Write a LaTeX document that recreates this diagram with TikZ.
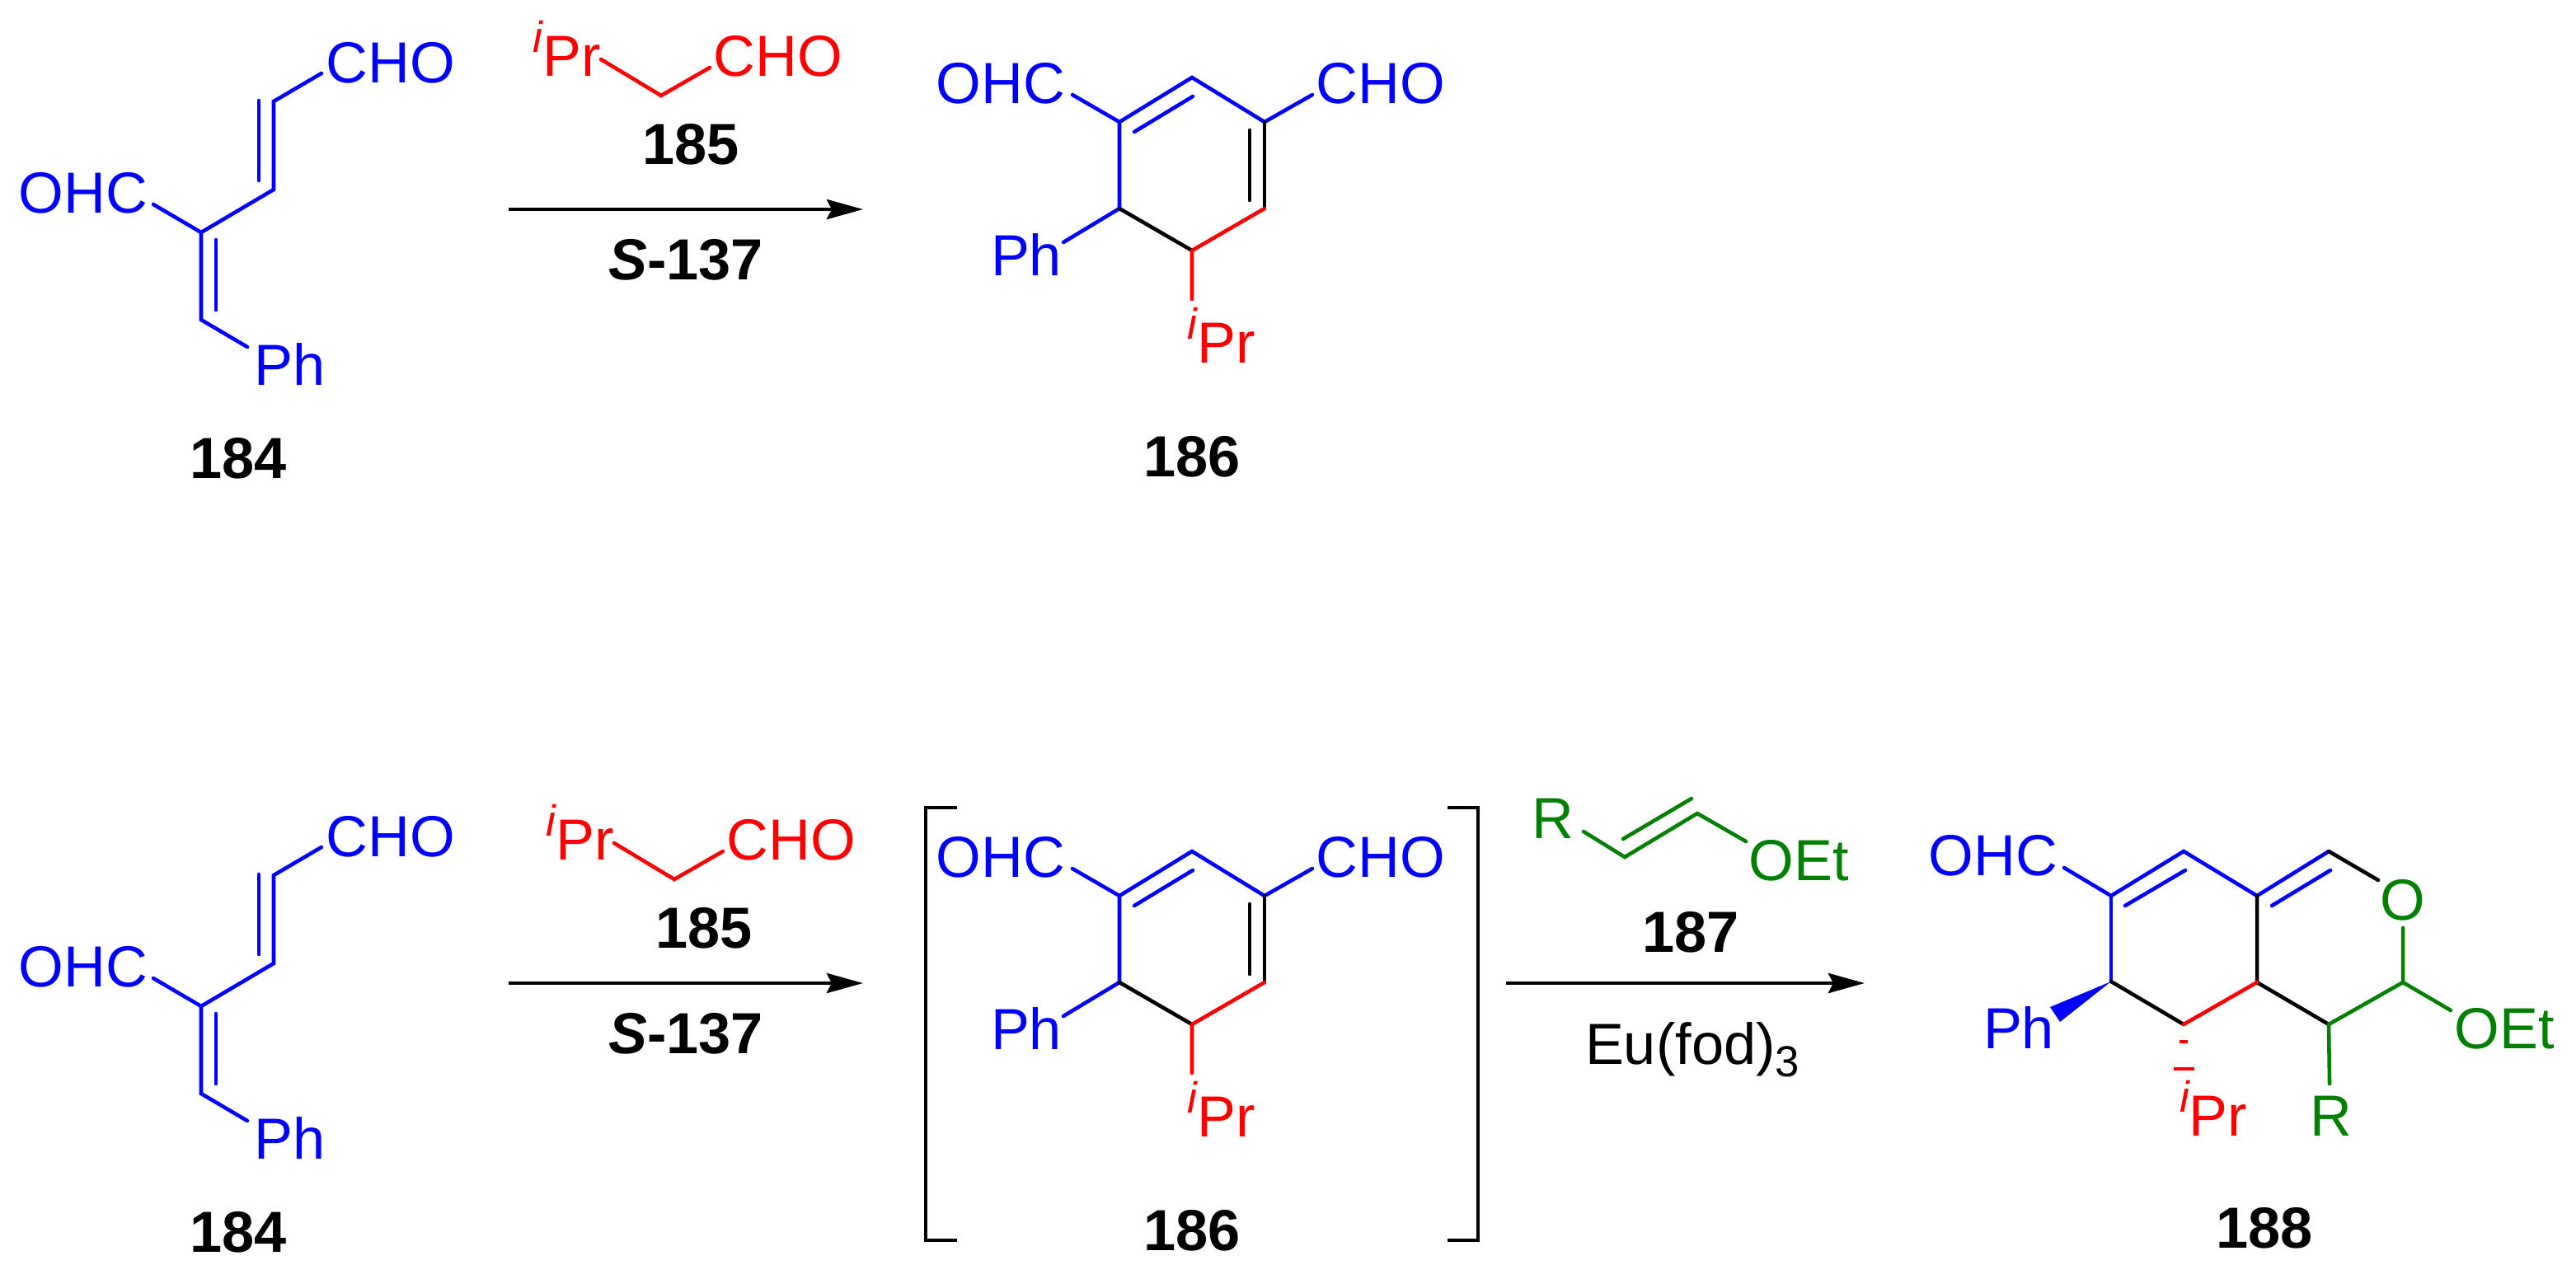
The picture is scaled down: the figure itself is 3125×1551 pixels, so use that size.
\documentclass[tikz,border=0pt]{standalone}
\usepackage{fontspec}
\setmainfont{Liberation Sans}
\usetikzlibrary{arrows.meta}
\definecolor{chemgreen}{RGB}{0,128,0}
\newcommand{\ipr}{\raisebox{8pt}{\fontsize{15}{18}\selectfont\itshape i}Pr}
\tikzset{
  bond/.style={line width=1.3pt, line cap=round},
  lab/.style={inner sep=0pt, anchor=base, font=\fontsize{20}{24}\selectfont},
  num/.style={inner sep=0pt, anchor=base, font=\fontsize{20}{24}\selectfont\bfseries},
  rxn/.style={line width=1.3pt, -{Stealth[length=4.4mm,width=2.4mm,inset=0.6mm]}},
  brack/.style={line width=1.3pt}
}
\begin{document}
\begin{tikzpicture}[x=0.01cm,y=-0.01cm]
\useasboundingbox (0,0) rectangle (3125,1551);
% the first two steps, drawn on both rows
\foreach \row/\dy/\ax/\ay in {top/939/-16/12,bot/0/0/0} {
\begin{scope}[shift={(0,-\dy)},name prefix=\row-]
% 184
\coordinate (a1) at (390,1028); \coordinate (a2) at (332,1062);
\coordinate (a3) at (332,1169); \coordinate (a4) at (244,1221);
\coordinate (a5) at (186,1187); \coordinate (a6) at (244,1327);
\coordinate (a7) at (300,1360);
\coordinate (a8) at (314,1061); \coordinate (a9) at (314,1158);
\coordinate (a10) at (262,1230); \coordinate (a11) at (262,1315);
\draw [bond, blue] (a1) -- (a2) -- (a3) -- (a4) -- (a6) -- (a7);
\draw [bond, blue] (a4) -- (a5);
\draw [bond, blue] (a8) -- (a9);
\draw [bond, blue] (a10) -- (a11);
\node [lab, blue] (cho184) at (474,1039) {CHO};
\node [lab, blue] (ohc184) at (101,1197) {OHC};
\node [lab, blue] (ph184) at (352,1406) {Ph};
\node [num] (n184) at (289,1519) {184};
% 185
\begin{scope}[shift={(\ax,-\ay)}]
\coordinate (b1) at (745,1023); \coordinate (b2) at (818,1067); \coordinate (b3) at (877,1033);
\draw [bond, red] (b1) -- (b2) -- (b3);
\node [lab, red] (ipr185) at (704,1043) {\ipr};
\node [lab, red] (cho185) at (960,1043) {CHO};
\node [num] (n185) at (854,1150) {185};
\end{scope}
% first arrow
\coordinate (r1) at (617,1193); \coordinate (r2) at (1047,1193);
\draw [rxn] (r1) -- (r2);
\node [num] (cat) at (832,1278) {{\itshape S}-137};
% 186
\coordinate (c1) at (1358,1087); \coordinate (c2) at (1446,1033);
\coordinate (c3) at (1534,1087); \coordinate (c4) at (1534,1192);
\coordinate (c5) at (1446,1243); \coordinate (c6) at (1358,1192);
\coordinate (c7) at (1301,1054); \coordinate (c8) at (1592,1054);
\coordinate (c9) at (1290,1233); \coordinate (c10) at (1446,1302);
\coordinate (c11) at (1376,1099); \coordinate (c12) at (1447,1056);
\coordinate (c13) at (1516,1097); \coordinate (c14) at (1516,1182);
\draw [bond, blue] (c7) -- (c1) -- (c2) -- (c3) -- (c8);
\draw [bond, blue] (c1) -- (c6) -- (c9);
\draw [bond, blue] (c11) -- (c12);
\draw [bond] (c3) -- (c4);
\draw [bond] (c13) -- (c14);
\draw [bond] (c6) -- (c5);
\draw [bond, red] (c4) -- (c5) -- (c10);
\node [lab, blue] (ohc186) at (1214,1064) {OHC};
\node [lab, blue] (cho186) at (1675,1064) {CHO};
\node [lab, blue] (ph186) at (1245,1273) {Ph};
\node [lab, red] (ipr186) at (1482,1379) {\ipr};
\node [num] (n186) at (1446,1517) {186};
\end{scope}
}
% brackets round the intermediate
\coordinate (bl1) at (1161,980); \coordinate (bl2) at (1123,980);
\coordinate (bl3) at (1123,1505); \coordinate (bl4) at (1161,1505);
\coordinate (br1) at (1756,980); \coordinate (br2) at (1793,980);
\coordinate (br3) at (1793,1505); \coordinate (br4) at (1756,1505);
\draw [brack] (bl1) -- (bl2) -- (bl3) -- (bl4);
\draw [brack] (br1) -- (br2) -- (br3) -- (br4);
% 187
\coordinate (d1) at (1921,1009); \coordinate (d2) at (1971,1040);
\coordinate (d3) at (2059,987); \coordinate (d4) at (2118,1021);
\coordinate (d5) at (1969,1018); \coordinate (d6) at (2052,969);
\draw [bond, chemgreen] (d1) -- (d2) -- (d3) -- (d4);
\draw [bond, chemgreen] (d5) -- (d6);
\node [lab, chemgreen] (r187) at (1884,1017) {R};
\node [lab, chemgreen] (oet187) at (2182,1068) {OEt};
\node [num] (n187) at (2051,1155) {187};
% second arrow
\coordinate (s1) at (1827,1193); \coordinate (s2) at (2262,1193);
\draw [rxn] (s1) -- (s2);
\node [lab] (eufod) at (2053,1291) {Eu(fod)\raisebox{-4.5pt}{\fontsize{15}{18}\selectfont 3}};
% 188
\coordinate (e1) at (2561,1087); \coordinate (e2) at (2649,1033);
\coordinate (e3) at (2738,1087); \coordinate (e4) at (2738,1192);
\coordinate (e5) at (2649,1243); \coordinate (e6) at (2561,1191);
\coordinate (e7) at (2825,1033); \coordinate (e8) at (2885,1068);
\coordinate (e9) at (2915,1126); \coordinate (e10) at (2915,1192);
\coordinate (e11) at (2825,1243); \coordinate (e12) at (2973,1226);
\coordinate (e13) at (2826,1315); \coordinate (e14) at (2504,1053);
\coordinate (e15) at (2578,1099); \coordinate (e16) at (2651,1056);
\coordinate (e17) at (2756,1099); \coordinate (e18) at (2827,1056);
\coordinate (e19) at (2487,1222); \coordinate (e20) at (2499,1240);
\coordinate (e21) at (2644,1264); \coordinate (e22) at (2654,1264);
\coordinate (e23) at (2637,1297); \coordinate (e24) at (2662,1297);
\draw [bond, blue] (e14) -- (e1) -- (e2) -- (e3) -- (e7);
\draw [bond, blue] (e1) -- (e6);
\draw [bond, blue] (e15) -- (e16);
\draw [bond, blue] (e17) -- (e18);
\draw [bond] (e7) -- (e8);
\draw [bond] (e3) -- (e4) -- (e11);
\draw [bond] (e6) -- (e5);
\draw [bond, red] (e4) -- (e5);
\draw [bond, chemgreen] (e9) -- (e10) -- (e11) -- (e13);
\draw [bond, chemgreen] (e10) -- (e12);
\fill [blue] (e6) -- (e19) -- (e20) -- cycle;
\draw [line width=1.3pt, red] (e21) -- (e22);
\draw [line width=1.3pt, red] (e23) -- (e24);
\node [lab, blue] (ohc188) at (2418,1062) {OHC};
\node [lab, blue] (ph188) at (2449,1272) {Ph};
\node [lab, red] (ipr188) at (2685,1378) {\ipr};
\node [lab, chemgreen] (r188) at (2828,1378) {R};
\node [lab, chemgreen] (o188) at (2915,1116) {O};
\node [lab, chemgreen] (oet188) at (3038,1272) {OEt};
\node [num] (n188) at (2747,1514) {188};
\end{tikzpicture}
\end{document}
